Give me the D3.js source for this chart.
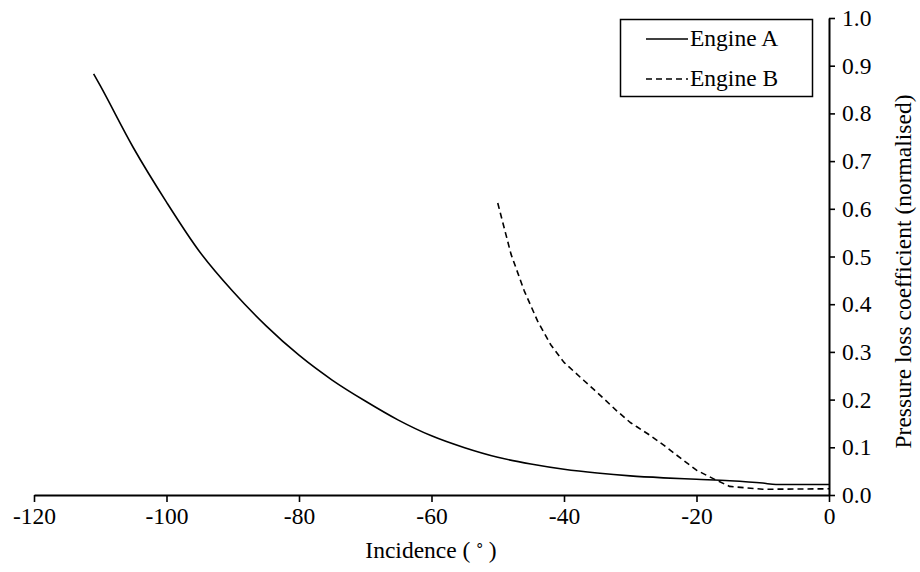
<!DOCTYPE html>
<html>
<head>
<meta charset="utf-8">
<script src="https://cdn.jsdelivr.net/npm/d3@7"></script>
<style>
  html, body { margin: 0; padding: 0; background: #fff; }
</style>
</head>
<body>
<svg id="chart" width="920" height="572"></svg>
<script>
// Incidence (degrees) and normalised pressure loss coefficient for each engine
const engineAIncidence = [-111, -110, -105, -100, -95, -90, -85, -80, -75, -70, -65, -60, -55, -50, -45, -40, -35, -30, -25, -20, -15, -10, -8, 0];
const engineALoss      = [0.883, 0.858, 0.728, 0.614, 0.510, 0.427, 0.355, 0.293, 0.241, 0.197, 0.157, 0.124, 0.099, 0.079, 0.065, 0.054, 0.046, 0.040, 0.036, 0.033, 0.030, 0.025, 0.022, 0.022];

const engineBIncidence = [-50, -48, -46, -44, -42, -40, -37, -35, -32, -30, -29, -27, -25, -22, -20, -17, -15, -10, 0];
const engineBLoss      = [0.612, 0.505, 0.428, 0.365, 0.315, 0.278, 0.240, 0.215, 0.176, 0.152, 0.143, 0.125, 0.105, 0.073, 0.052, 0.031, 0.018, 0.012, 0.013];

const xTicks = [-120, -100, -80, -60, -40, -20, 0];
const yTicks = [0, 0.1, 0.2, 0.3, 0.4, 0.5, 0.6, 0.7, 0.8, 0.9, 1.0];

const seriesNames = ["Engine A", "Engine B"];
const seriesDash  = [null, "6,4"];

const svg = d3.select("#chart");
const fontFamily = '"Liberation Serif"';
const fontSize = 23.5;

// Serif text helper
function serif(sel, size) {
  return sel
    .attr("font-family", "Liberation Serif")
    .attr("font-size", size)
    .style("font-family", fontFamily);
}

const x = d3.scaleLinear().domain([-120, 0]).range([34, 829]);
const y = d3.scaleLinear().domain([0, 1]).range([495, 18]);

// Bottom axis
const xAxis = svg.append("g")
  .attr("transform", `translate(0,${y(0)})`)
  .call(d3.axisBottom(x).tickValues(xTicks).tickFormat(d3.format("d")).tickSize(7).tickSizeOuter(0).tickPadding(5));
xAxis.attr("font-family", "Liberation Serif").attr("font-size", fontSize);
xAxis.select(".domain").attr("stroke", "#000").attr("stroke-width", 2);
xAxis.selectAll(".tick line").attr("stroke", "#000").attr("stroke-width", 1.6);
serif(xAxis.selectAll(".tick text"), fontSize)
  .attr("fill", "#000")
  .text(d => d === 0 ? "0" : String(d));

// Right axis
const yAxis = svg.append("g")
  .attr("transform", `translate(${x(0)},0)`)
  .call(d3.axisRight(y).tickValues(yTicks).tickFormat(d3.format(".1f")).tickSize(6).tickSizeOuter(0).tickPadding(7));
yAxis.attr("font-family", "Liberation Serif").attr("font-size", fontSize);
yAxis.select(".domain").attr("stroke", "#000").attr("stroke-width", 2);
yAxis.selectAll(".tick line").attr("stroke", "#000").attr("stroke-width", 1.6);
serif(yAxis.selectAll(".tick text"), fontSize)
  .attr("fill", "#000");

// Axis titles
const xTitle = serif(svg.append("text"), fontSize)
  .attr("x", 431).attr("y", 558)
  .attr("text-anchor", "middle");
xTitle.append("tspan").text("Incidence (\u2009");
xTitle.append("tspan").attr("font-size", 15).attr("dy", -8).text("\u2218");
xTitle.append("tspan").attr("dy", 8).text("\u2009)");

serif(svg.append("text"), fontSize)
  .attr("transform", `translate(911,${y(0.5) + 15}) rotate(-90)`)
  .attr("text-anchor", "middle")
  .text("Pressure loss coefficient (normalised)");

// Curves
const line = d3.line().x(d => x(d[0])).y(d => y(d[1]));
const seriesData = [
  d3.zip(engineAIncidence, engineALoss),
  d3.zip(engineBIncidence, engineBLoss)
];

seriesData.forEach((data, i) => {
  const path = svg.append("path")
    .datum(data)
    .attr("fill", "none")
    .attr("stroke", "#000")
    .attr("stroke-width", 1.6)
    .attr("stroke-linejoin", "round")
    .attr("d", i === 0 ? line.curve(d3.curveMonotoneX)(data) : line.curve(d3.curveLinear)(data));
  if (seriesDash[i]) path.attr("stroke-dasharray", seriesDash[i]);
});

// Legend
const legend = svg.append("g");
legend.append("rect")
  .attr("x", 620.5).attr("y", 19.5)
  .attr("width", 192).attr("height", 77)
  .attr("fill", "#fff").attr("stroke", "#000").attr("stroke-width", 1.5);

seriesNames.forEach((name, i) => {
  const ly = 39 + i * 40;
  const sample = legend.append("line")
    .attr("x1", 646).attr("x2", 688)
    .attr("y1", ly).attr("y2", ly)
    .attr("stroke", "#000").attr("stroke-width", 1.6);
  if (seriesDash[i]) sample.attr("stroke-dasharray", seriesDash[i]);
  serif(legend.append("text"), fontSize)
    .attr("x", 690).attr("y", ly + 7)
    .text(name);
});
</script>
</body>
</html>
